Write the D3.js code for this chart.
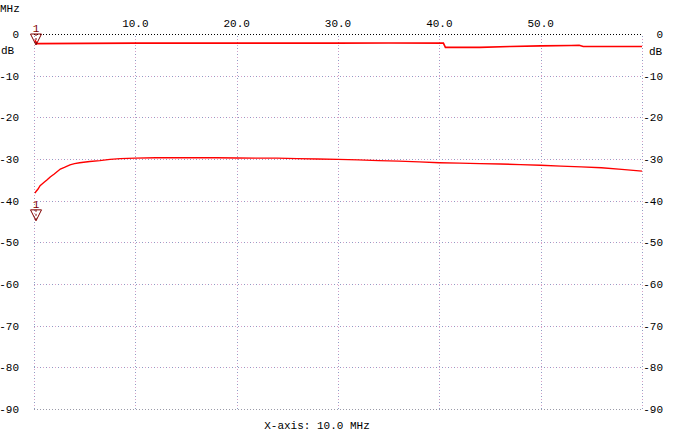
<!DOCTYPE html>
<html><head><meta charset="utf-8">
<script src="https://cdn.jsdelivr.net/npm/d3@7"></script>
<style>
html,body{margin:0;padding:0;background:#fff;}
svg text{font-family:"Liberation Mono","DejaVu Sans Mono",monospace;font-size:11px;fill:#000;}
</style></head>
<body><svg id="c" width="676" height="442"></svg>
<script>
const xTicks = [10, 20, 30, 40, 50];
const xTickLabels = ["10.0", "20.0", "30.0", "40.0", "50.0"];
const yTicks = [0, -10, -20, -30, -40, -50, -60, -70, -80, -90];

const upperFreq = [0.1, 0.3, 5, 10, 20, 30, 35, 40.4, 40.6, 44, 47, 50, 53, 53.8, 54.2, 57, 60];
const upperDb   = [-1.5, -2.3, -2.25, -2.2, -2.2, -2.2, -2.15, -2.2, -3.2, -3.2, -3.0, -2.85, -2.75, -2.7, -3.0, -3.0, -3.0];

const lowerFreq = [0.1, 0.2, 0.4, 0.6, 1.0, 1.3, 1.6, 2.0, 2.6, 3.0, 3.55, 4.0, 4.5, 5.5, 6.5, 7.5, 8.5, 10, 12, 15, 18, 20, 22, 24, 26, 28, 30, 32, 34, 36, 38, 40, 42, 44, 46, 48, 50, 52, 54, 56, 58, 60];
const lowerDb   = [-38.2, -37.8, -37.2, -36.4, -35.6, -35.0, -34.3, -33.6, -32.4, -32.0, -31.4, -31.1, -30.9, -30.6, -30.4, -30.1, -29.9, -29.8, -29.7, -29.7, -29.7, -29.75, -29.8, -29.8, -29.9, -30.0, -30.1, -30.2, -30.4, -30.5, -30.7, -30.9, -31.0, -31.1, -31.2, -31.35, -31.5, -31.7, -31.9, -32.1, -32.5, -32.9];

const markerFreq = [0.1, 0.1];
const markerLevel = [0, -42.2];
const markerLabels = ["1", "1"];

const svg = d3.select("#c");
const x = d3.scaleLinear().domain([0, 60]).range([34, 642]);
const y = d3.scaleLinear().domain([0, -90]).range([34, 409]);

const g = svg.append("g").attr("shape-rendering", "crispEdges");
// horizontal grid
yTicks.forEach(t => {
  if (t === 0) {
    g.append("line").attr("x1", x(0)).attr("x2", x(60)).attr("y1", y(t)+0.5).attr("y2", y(t)+0.5)
      .attr("stroke", "#000").attr("stroke-dasharray", "1,2");
  } else if (t === -90) {
    g.append("line").attr("x1", x(0)).attr("x2", x(60)).attr("y1", y(t)+0.5).attr("y2", y(t)+0.5)
      .attr("stroke", "#9a9aa8").attr("stroke-dasharray", "1,2");
  } else {
    g.append("line").attr("x1", x(0)).attr("x2", x(60)).attr("y1", y(t)+0.5).attr("y2", y(t)+0.5)
      .attr("stroke", "#8c9cc4").attr("stroke-dasharray", "1,5");
    g.append("line").attr("x1", x(0)+3).attr("x2", x(60)).attr("y1", y(t)+0.5).attr("y2", y(t)+0.5)
      .attr("stroke", "#d8a0c8").attr("stroke-dasharray", "1,5");
  }
});
// vertical grid incl. edges
[0].concat(xTicks, [60]).forEach(t => {
  g.append("line").attr("x1", x(t)+0.5).attr("x2", x(t)+0.5).attr("y1", y(0)+2).attr("y2", y(-90))
    .attr("stroke", "#8c9cc4").attr("stroke-dasharray", "1,5");
  g.append("line").attr("x1", x(t)+0.5).attr("x2", x(t)+0.5).attr("y1", y(0)+5).attr("y2", y(-90))
    .attr("stroke", "#d8a0c8").attr("stroke-dasharray", "1,5");
});

// y labels
yTicks.forEach(t => {
  svg.append("text").attr("x", 19).attr("y", y(t)+4).attr("text-anchor", "end").text(t);
  svg.append("text").attr("x", 663).attr("y", y(t)+4).attr("text-anchor", "end").text(t);
});
svg.append("text").attr("x", 1).attr("y", 54).text("dB");
svg.append("text").attr("x", 649).attr("y", 55).text("dB");
svg.append("text").attr("x", 0).attr("y", 12).text("MHz");
xTicks.forEach((t, i) => {
  svg.append("text").attr("x", x(t)).attr("y", 27).attr("text-anchor", "middle").text(xTickLabels[i]);
});
svg.append("text").attr("x", 317).attr("y", 429).attr("text-anchor", "middle").text("X-axis: 10.0 MHz");

// traces
const line = d3.line().x(d => x(d[0])).y(d => y(d[1]));
svg.append("path").datum(d3.zip(upperFreq, upperDb)).attr("d", line)
  .attr("fill", "none").attr("stroke", "#ff0000").attr("stroke-width", 1.6);
svg.append("path").datum(d3.zip(lowerFreq, lowerDb)).attr("d", line)
  .attr("fill", "none").attr("stroke", "#ff0000").attr("stroke-width", 1.4);

// markers
markerFreq.forEach((f, i) => {
  const cx = x(f) + 1, ty = y(markerLevel[i]);
  svg.append("path").attr("d", `M${cx-5.5},${ty} L${cx+5.5},${ty} L${cx},${ty+11} Z`)
    .attr("fill", "none").attr("stroke", "#800000").attr("stroke-width", 1);
  svg.append("line").attr("x1", cx).attr("x2", cx).attr("y1", ty).attr("y2", ty+11)
    .attr("stroke", "#800000").attr("stroke-dasharray", "2,2");
  svg.append("text").attr("x", cx).attr("y", ty-2).attr("text-anchor", "middle")
    .style("fill", "#800000").text(markerLabels[i]);
});
</script></body></html>
